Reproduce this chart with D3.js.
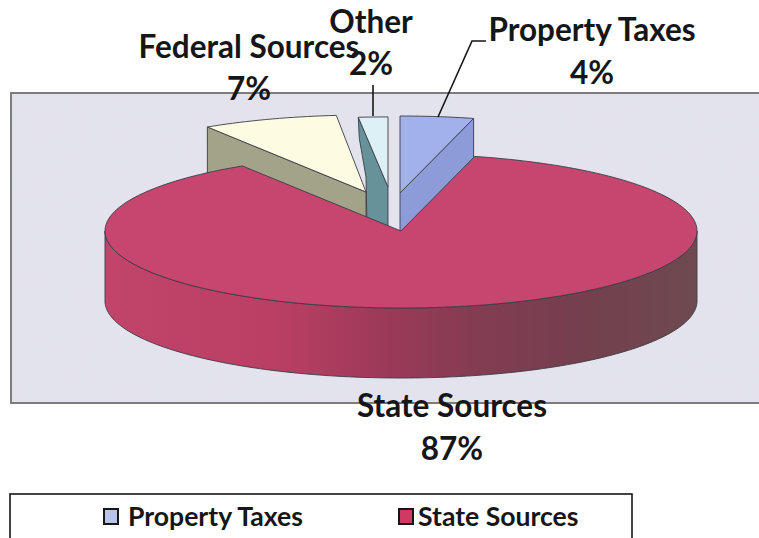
<!DOCTYPE html>
<html>
<head>
<meta charset="utf-8">
<script src="https://d3js.org/d3.v7.min.js"></script>
<style>
  html, body { margin: 0; padding: 0; background: #fff; overflow: hidden; }
  text { font-family: Lato, "Open Sans", sans-serif; font-weight: 700; fill: #161618; }
</style>
</head>
<body>
<div id="chart"></div>
<script>
// slices in drawing order round the pie, starting at 12 o'clock
var categories = ['Property Taxes', 'State Sources', 'Federal Sources', 'Other'];
var shares = [4, 87, 7.4, 1.6];
var shareLabels = ['4%', '87%', '7%', '2%'];
var legendItems = ['Property Taxes', 'State Sources'];

var topColors = ['#a3b1ea', '#c6466f', '#fdfbe2', '#dcf0f6'];
var wallColors = ['#8d9cd8', '#a8375a', '#a3a389', '#66939a'];
var legendColors = ['#b9c4ec', '#cf3a63'];

var width = 759;
var height = 538;

var cx = 401;
var cy = 231;
var depth = 70;

// the pie is flattened, so x and y get their own radius scale
var xScale = d3.scaleLinear().domain([-1, 1]).range([-296, 296]);
var yScale = d3.scaleLinear().domain([-1, 1]).range([77, -77]);

// how far each slice is pulled out of the pie
var offsets = [[-1, -38], [0, 0], [-35, -39], [-13, -44]];
// Other is a bit flatter than the rest in the scan
var squash = [1, 1, 1, 0.91];

var pie = d3.pie().sort(null).value(function(d) { return d; });
var arcs = pie(shares);

var line = d3.line();

function rimPoint(a, i) {
  var o = offsets[i];
  return [cx + o[0] + xScale(Math.sin(a)), cy + o[1] + yScale(Math.cos(a)) * squash[i]];
}

function rimPoints(a0, a1, i) {
  var n = Math.max(2, Math.ceil((a1 - a0) * 40));
  return d3.range(n + 1).map(function(k) {
    return rimPoint(a0 + (a1 - a0) * k / n, i);
  });
}

function down(p) {
  return [p[0], p[1] + depth];
}

var svg = d3.select('#chart')
  .append('svg')
  .attr('width', width)
  .attr('height', height)
  .style('display', 'block');

var defs = svg.append('defs');

// scanned paper look of the plot area
var grain = defs.append('filter')
  .attr('id', 'grain')
  .attr('x', 0).attr('y', 0).attr('width', 1).attr('height', 1);
grain.append('feTurbulence')
  .attr('type', 'fractalNoise')
  .attr('baseFrequency', 0.18)
  .attr('numOctaves', 2)
  .attr('seed', 4);
grain.append('feColorMatrix')
  .attr('type', 'matrix')
  .attr('values', '0 0 0 0 0.80  0 0 0 0 0.78  0 0 0 0 0.80  0.5 0 0 0 -0.12');

var sideGrad = defs.append('linearGradient')
  .attr('id', 'stateSide')
  .attr('gradientUnits', 'userSpaceOnUse')
  .attr('x1', 106).attr('x2', 697).attr('y1', 0).attr('y2', 0);
[[0, '#c2446b'], [0.3, '#b83f64'], [0.45, '#a03a5a'], [0.62, '#843c52'], [0.8, '#743f4e'], [1, '#6e4a50']].forEach(function(s) {
  sideGrad.append('stop').attr('offset', s[0]).attr('stop-color', s[1]);
});

// plot area
svg.append('rect')
  .attr('x', 11).attr('y', 93)
  .attr('width', 760).attr('height', 310)
  .attr('fill', '#e3e3ee')
  .attr('stroke', '#7c7c7c')
  .attr('stroke-width', 2);
svg.append('rect')
  .attr('x', 12).attr('y', 94)
  .attr('width', 747).attr('height', 308)
  .attr('filter', 'url(#grain)');

var pieGroup = svg.append('g').attr('stroke', '#3c3c46').attr('stroke-width', 0.9).attr('stroke-linejoin', 'round');

// Other: the cut face is partly hidden by the Federal slice in front of it
var otherApex = rimPoint(0, 3);
otherApex[1] = cy + offsets[3][1];
var otherStart = rimPoint(arcs[3].startAngle, 3);
pieGroup.append('path')
  .attr('d', line([
    otherStart,
    otherApex,
    down(otherApex),
    [otherApex[0] - 21, otherApex[1] + 40],
    [otherApex[0] - 22, otherApex[1] - 10],
    [otherStart[0] + 1, otherStart[1] + 21]
  ]) + 'Z')
  .attr('fill', wallColors[3]);
pieGroup.append('path')
  .attr('d', line([otherApex].concat(rimPoints(arcs[3].startAngle, arcs[3].endAngle, 3))) + 'Z')
  .attr('fill', topColors[3]);

// Federal and Property
[2, 0].forEach(function(i) {
  var d = arcs[i];
  var apex = [cx + offsets[i][0], cy + offsets[i][1]];
  var edge = rimPoint(i === 0 ? d.endAngle : d.startAngle, i);
  pieGroup.append('path')
    .attr('d', line([edge, apex, down(apex), down(edge)]) + 'Z')
    .attr('fill', wallColors[i]);
  pieGroup.append('path')
    .attr('d', line([apex].concat(rimPoints(d.startAngle, d.endAngle, i))) + 'Z')
    .attr('fill', topColors[i]);
});

// State Sources side wall, only the front half of the rim shows
var state = arcs[1];
var front = rimPoints(Math.PI / 2, Math.PI * 1.5, 1);
pieGroup.append('path')
  .attr('d', line(front.concat(front.slice().reverse().map(down))) + 'Z')
  .attr('fill', 'url(#stateSide)');
pieGroup.append('path')
  .attr('d', line([[cx, cy]].concat(rimPoints(state.startAngle, state.endAngle, 1))) + 'Z')
  .attr('fill', topColors[1]);

// leader lines
var leaders = svg.append('g').attr('fill', 'none').attr('stroke', '#161618').attr('stroke-width', 1.6);
leaders.append('path').attr('d', line([[438, 117], [472, 41], [486, 41]]));
leaders.append('path').attr('d', line([[373, 116], [373, 85]]));

// data labels, name above the percentage
var labelPos = [[592, 41, 84], [452, 417, 460], [249, 58, 100], [371, 33, 75]];
var labels = svg.append('g').attr('text-anchor', 'middle').style('font-size', '31.5px');
categories.forEach(function(name, i) {
  labels.append('text').attr('x', labelPos[i][0]).attr('y', labelPos[i][1]).text(name);
  labels.append('text').attr('x', labelPos[i][0]).attr('y', labelPos[i][2]).text(shareLabels[i]);
});

// legend, runs off the bottom of the picture
svg.append('rect')
  .attr('x', 10).attr('y', 494)
  .attr('width', 622).attr('height', 80)
  .attr('fill', '#fff')
  .attr('stroke', '#161618')
  .attr('stroke-width', 1.6);

var legendX = d3.scalePoint().domain(legendItems).range([104, 399]);
legendItems.forEach(function(name, i) {
  svg.append('rect')
    .attr('x', legendX(name)).attr('y', 509)
    .attr('width', 14).attr('height', 15)
    .attr('fill', legendColors[i])
    .attr('stroke', '#161618')
    .attr('stroke-width', 2);
  svg.append('text')
    .attr('x', legendX(name) + (i === 0 ? 24 : 19)).attr('y', 526)
    .style('font-size', '26.6px')
    .text(name);
});
</script>
</body>
</html>
